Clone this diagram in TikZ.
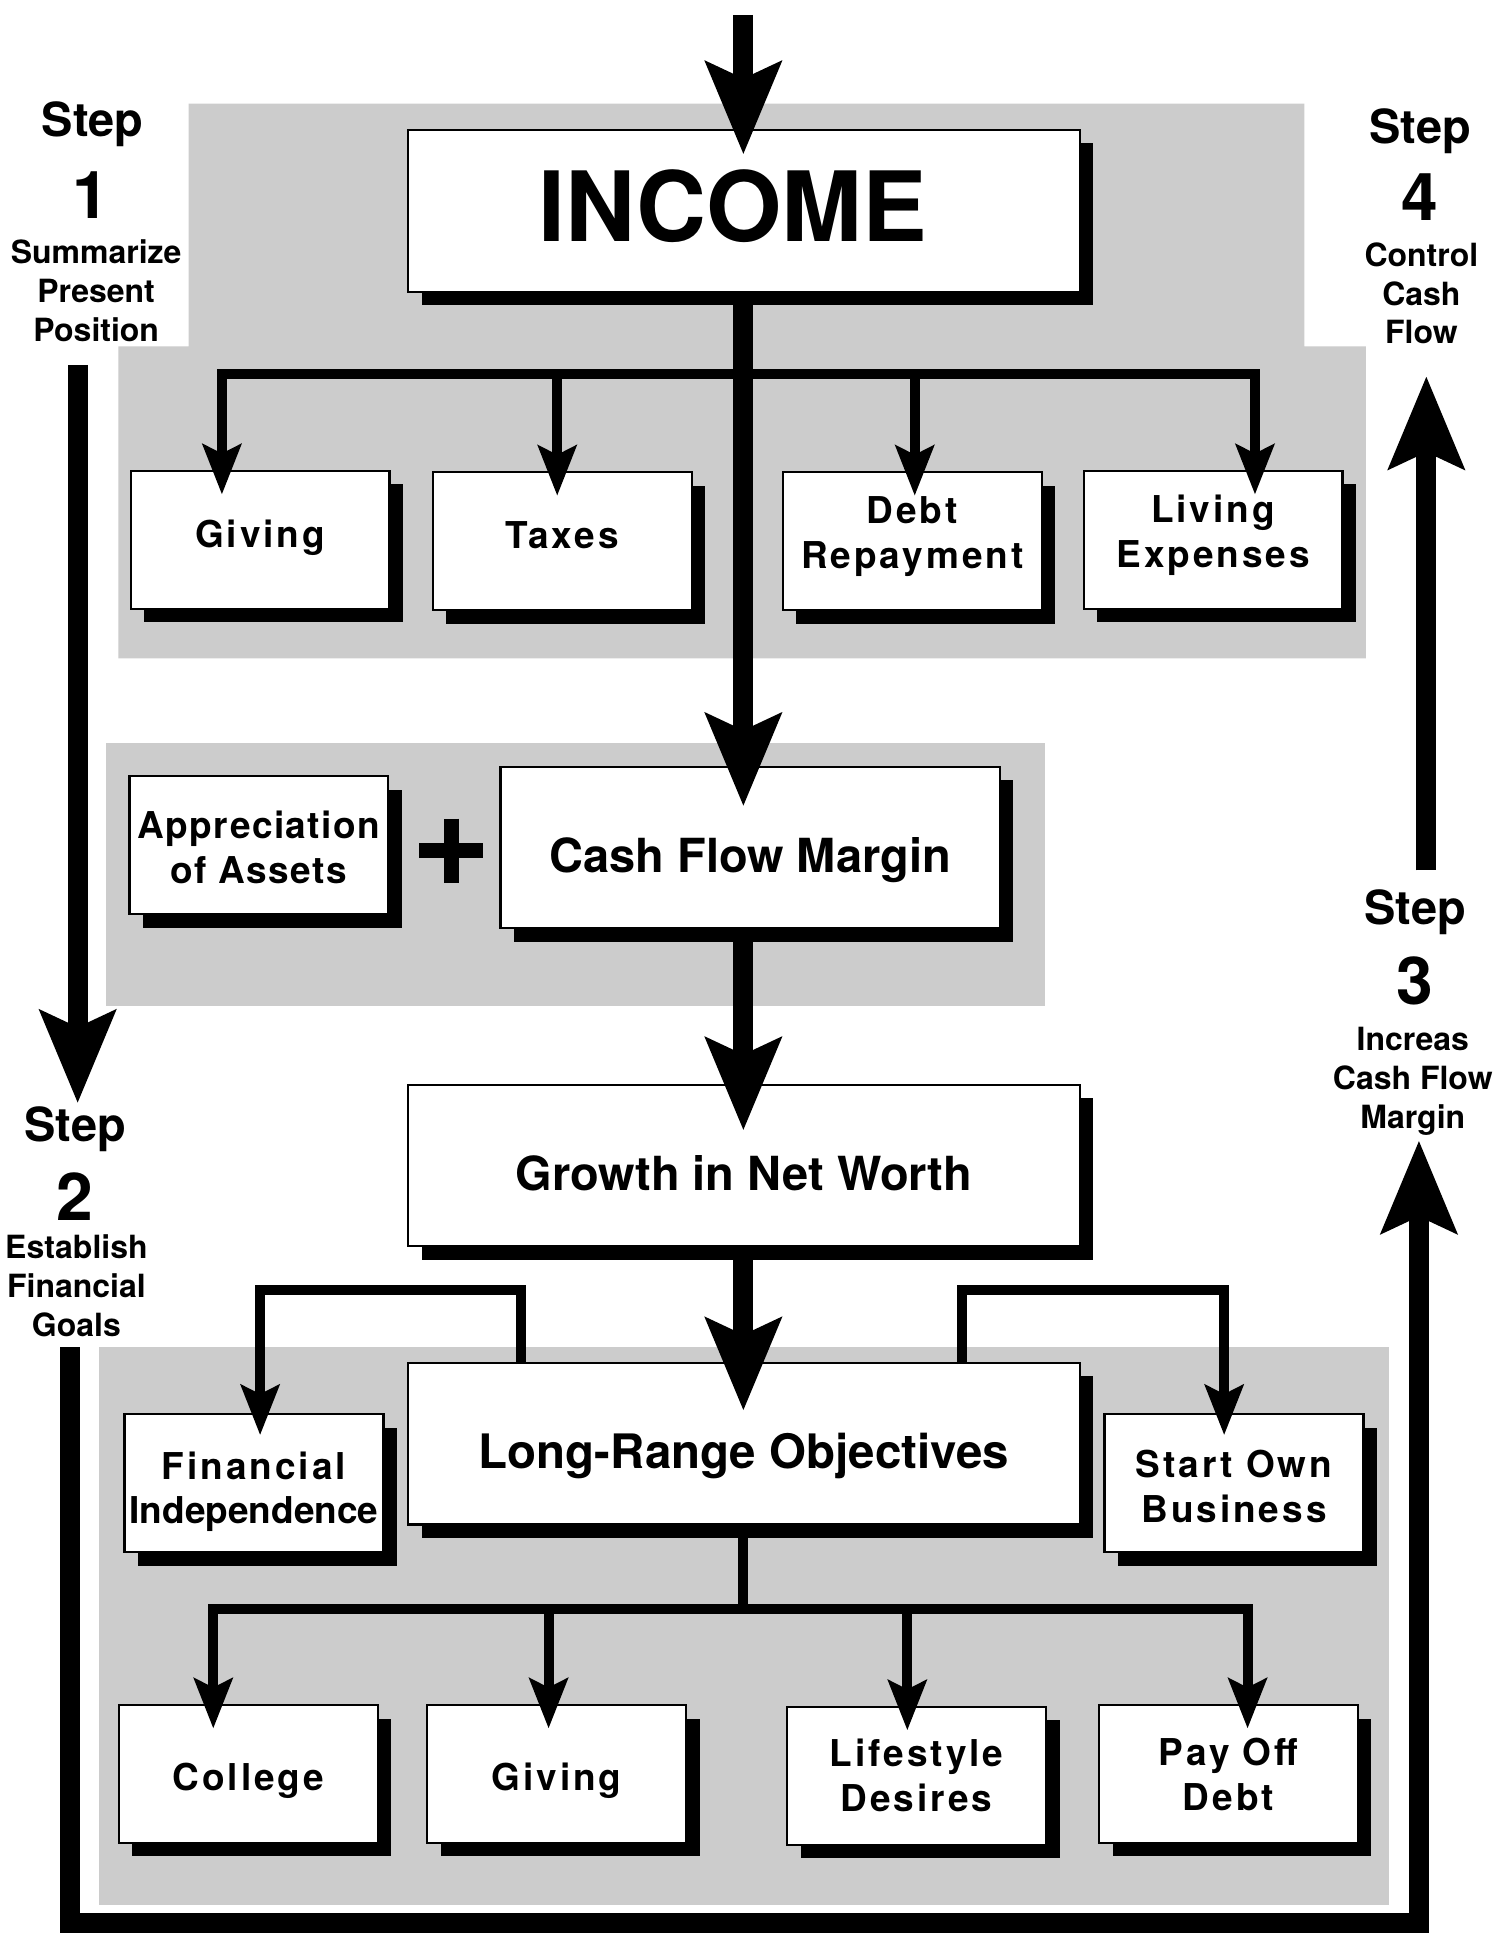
\documentclass[tikz,border=0pt]{standalone}
\usepackage{fontspec}
\setmainfont{TeX Gyre Heros}
\newfontfamily\trackfont[LetterSpace=8]{TeX Gyre Heros}
\newfontfamily\slighttrack[LetterSpace=4]{TeX Gyre Heros}
\usetikzlibrary{arrows.meta,calc,shadows}
\definecolor{panelgray}{HTML}{CCCCCC}

\begin{document}
\begin{tikzpicture}[x=1.2333pt,y=-1.2333pt,
  line join=miter,
  heavy/.style={line width=20pt},
  light/.style={line width=10pt},
  bigarrow/.style={-{Stealth[length=92pt,width=74pt,inset=16pt]}},
  smallarrow/.style={-{Stealth[length=50pt,width=38pt,inset=9pt]}},
  panel/.style={fill=panelgray},
  boxbase/.style={draw=black, line width=2.2pt, fill=white, inner sep=0pt,
    general shadow={fill=black, shadow xshift=13.5pt, shadow yshift=-13.5pt}},
  smallbox/.style={boxbase, minimum width=259pt, minimum height=138pt, align=center,
    font=\trackfont\bfseries\fontsize{37}{45}\selectfont},
  % invisible struts that nudge a label up (extra depth) or down (extra height)
  raisetext/.style={execute at end node={\rule[-#1]{0pt}{#1}}},
  lowertext/.style={execute at begin node={\rule{0pt}{#1}}},
  headbox/.style={boxbase, minimum height=162pt, text height=50pt, text depth=0pt,
    font=\bfseries\fontsize{47}{56}\selectfont},
  steptitle/.style={anchor=base, inner sep=0pt, font=\bfseries\fontsize{47}{56}\selectfont},
  stepnum/.style={anchor=base, inner sep=0pt, font=\bfseries\fontsize{66}{76}\selectfont},
  % multi-line captions: the base anchor sits on the last line
  steptext/.style={anchor=base, inner sep=0pt, align=center,
    font=\bfseries\fontsize{32}{38.8}\selectfont}
]
\useasboundingbox (0,0) rectangle (1222,1568);
\fill[white] (0,0) rectangle (1222,1568);

% shaded panels behind the three groups
\fill[panel] (153,84) -- (1058,84) -- (1058,281) -- (1108,281) -- (1108,534)
  -- (96,534) -- (96,281) -- (153,281) -- cycle;
\fill[panel] (86,603) rectangle (848,816);
\fill[panel] (80,1093) rectangle (1127,1545);

% step captions
\node[steptitle] (s1t) at (75,111) {Step};
\node[stepnum]   (s1n) at (74,177) {1};
\node[steptext]  (s1x) at (78,277) {Summarize\\Present\\Position};

\node[steptitle] (s2t) at (61,926) {Step};
\node[stepnum]   (s2n) at (61,990) {2};
\node[steptext]  (s2x) at (62,1084) {Establish\\Financial\\Goals};

\node[steptitle] (s3t) at (1148,750) {Step};
\node[stepnum]   (s3n) at (1148,815) {3};
\node[steptext]  (s3x) at (1146,915) {Increas\\Cash Flow\\Margin};

\node[steptitle] (s4t) at (1152,116) {Step};
\node[stepnum]   (s4n) at (1152,179) {4};
\node[steptext]  (s4x) at (1153,279) {Control\\Cash\\Flow};

% cycle arrows between the steps
\coordinate (s1a) at (63,296);
\coordinate (s1b) at (63,895);
\draw[heavy,bigarrow] (s1a) -- (s1b);

\coordinate (s2a) at (57,1093);
\coordinate (loopL) at (57,1560);
\coordinate (loopR) at (1151,1560);
\coordinate (s3b) at (1151,925);
\draw[heavy,bigarrow] (s2a) -- (loopL) -- (loopR) -- (s3b);

\coordinate (s3a) at (1157,706);
\coordinate (s4b) at (1157,305);
\draw[heavy,bigarrow] (s3a) -- (s4b);

% boxes
\node[headbox, minimum width=672pt, text height=69.6pt, text depth=7.6pt,
  font=\bfseries\fontsize{97}{110}\selectfont] (income) at (603.5,171) {INCOME\hspace*{22pt}};

\node[smallbox, raisetext=13pt]   (giv1) at (211,438) {Giving};
\node[smallbox, raisetext=12.4pt] (tax)  at (456,439) {Taxes};
\node[smallbox, raisetext=18pt]   (debt) at (740,439) {Debt\\Repayment};
\node[smallbox, raisetext=18pt]   (liv)  at (984,438) {Living\\Expenses};

\node[smallbox, font=\slighttrack\bfseries\fontsize{37}{44.5}\selectfont] (app) at (210,685.5) {\rule{0pt}{32pt}Appreciation\\of Assets};
\node[headbox, minimum width=499.5pt, minimum height=161.5pt] (cfm) at (608.5,687.5) {Cash Flow Margin};
\node[headbox, minimum width=672pt, minimum height=161.5pt] (growth) at (603.5,945.5) {Growth in Net Worth};
\node[headbox, minimum width=672pt, font=\bfseries\fontsize{47.5}{56}\selectfont] (lro) at (603.5,1171) {Long-Range Objectives};

\node[smallbox, font=\bfseries\fontsize{37}{44.5}\selectfont] (fin) at (206,1203) {\rule{0pt}{45pt}{\trackfont Financial}\\Independence};
\node[smallbox] (own) at (1001,1203) {\rule{0pt}{35pt}Start Own\\Business};

\node[smallbox, lowertext=41pt] (col)  at (201.5,1439) {College};
\node[smallbox, lowertext=41pt] (giv2) at (451.5,1439) {Giving};
\node[smallbox] (life) at (743.5,1440.5) {Lifestyle\\Desires};
\node[smallbox] (pay)  at (996.5,1439) {Pay Off\\Debt};

% plus sign between the two sources of growth
\coordinate (plus) at (366,690);
\draw[line width=15pt] ($(plus)+(-26,0)$) -- ($(plus)+(26,0)$);
\draw[line width=15pt] ($(plus)+(0,-26)$) -- ($(plus)+(0,26)$);

% main flow
\coordinate (top) at (603,12);
\draw[heavy,bigarrow] (top) -- ($(top |- income.north)+(0,21)$);
\draw[heavy,bigarrow] (income.south -| top) -- ($(top |- cfm.north)+(0,33)$);
\draw[heavy,bigarrow] (cfm.south -| top) -- ($(top |- growth.north)+(0,38)$);
\draw[heavy,bigarrow] (growth.south -| top) -- ($(top |- lro.north)+(0,40)$);

% income split
\coordinate (j1) at (603,303);
\foreach \n/\dx in {giv1/-31, tax/-4, debt/2, liv/34}
  \draw[light,smallarrow] (j1) -| ($(\n.north)+(\dx,20)$);

% objectives split
\coordinate (j2) at (603,1305);
\draw[light] (lro.south -| top) -- (j2);
\foreach \n/\dx in {col/-28.5, giv2/-6.5, life/-7.5, pay/15.5}
  \draw[light,smallarrow] (j2) -| ($(\n.north)+(\dx,20)$);

\coordinate (fiTurn) at (211,1046);
\draw[light,smallarrow] ($(lro.north)+(-180.5,2)$) |- (fiTurn) -- ($(fin.north)+(5,18)$);
\coordinate (soTurn) at (993,1046);
\draw[light,smallarrow] ($(lro.north)+(176.5,2)$) |- (soTurn) -- ($(own.north)+(-8,18)$);
\end{tikzpicture}
\end{document}
